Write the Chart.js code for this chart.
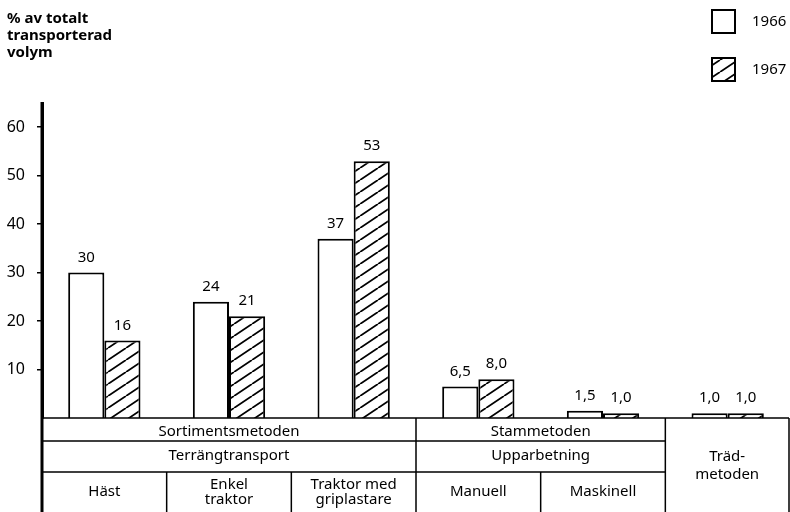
<!DOCTYPE html>
<html><head><meta charset="utf-8">
<script src="https://cdn.jsdelivr.net/npm/chart.js@4"></script>
<style>html,body{margin:0;padding:0;background:#fff}canvas{display:block}</style>
</head><body><canvas id="c" width="790" height="512"></canvas>
<script>
const categories = ['Häst','Enkel traktor','Traktor med griplastare','Manuell','Maskinell','Trädmetoden'];
const values1966 = [30, 24, 37, 6.5, 1.5, 1.0];
const values1967 = [16, 21, 53, 8.0, 1.0, 1.0];
const seriesNames = ['1966', '1967'];
const yTicks = [10, 20, 30, 40, 50, 60];
const axisTitle = ['% av totalt', 'transporterad', 'volym'];
const bottomRowLabels = [['Häst'], ['Enkel', 'traktor'], ['Traktor med', 'griplastare'], ['Manuell'], ['Maskinell']];
const fullColumnLabel = { col: 5, lines: ['Träd-', 'metoden'] };
const groupRow1 = [{ text: 'Sortimentsmetoden', from: 0, to: 2 }, { text: 'Stammetoden', from: 3, to: 4 }];
const groupRow2 = [{ text: 'Terrängtransport', from: 0, to: 2 }, { text: 'Upparbetning', from: 3, to: 4 }];

const FONT = '"Noto Sans", "DejaVu Sans", sans-serif';

const ctx0 = document.getElementById('c').getContext('2d');
const hatch = (function () {
  const W = 18, H = 12;
  const c = document.createElement('canvas');
  c.width = W; c.height = H;
  const g = c.getContext('2d');
  g.fillStyle = '#fff'; g.fillRect(0, 0, W, H);
  g.strokeStyle = '#000'; g.lineWidth = 1.8;
  g.beginPath();
  for (let k = -1; k <= 1; k++) { g.moveTo(k * W, H); g.lineTo((k + 1) * W, 0); }
  g.stroke();
  return ctx0.createPattern(c, 'repeat');
})();

function fmt(v) { return v < 10 ? v.toFixed(1).replace('.', ',') : String(v); }

const overlay = {
  id: 'overlay',
  afterDraw(chart) {
    const ctx = chart.ctx;
    const ca = chart.chartArea;
    const xs = chart.scales.x;
    ctx.save();
    ctx.fillStyle = '#000';
    ctx.strokeStyle = '#000';

    // axis title
    ctx.font = 'bold 15px ' + FONT;
    ctx.textAlign = 'left'; ctx.textBaseline = 'middle';
    axisTitle.forEach((t, i) => ctx.fillText(t, 7, 19 + i * 17));

    // legend
    chart.data.datasets.forEach((ds, i) => {
      const y = 10 + i * 48;
      ctx.fillStyle = ds.backgroundColor;
      ctx.fillRect(712, y, 23, 23);
      ctx.lineWidth = 2; ctx.strokeStyle = '#000';
      ctx.strokeRect(712, y, 23, 23);
      ctx.fillStyle = '#000';
      ctx.font = '15px ' + FONT;
      ctx.textAlign = 'left'; ctx.textBaseline = 'middle';
      ctx.fillText(ds.label, 752, y + 12);
    });

    // value labels
    ctx.font = '15px ' + FONT;
    ctx.textAlign = 'center'; ctx.textBaseline = 'middle';
    chart.data.datasets.forEach((ds, di) => {
      const meta = chart.getDatasetMeta(di);
      meta.data.forEach((bar, i) => {
        ctx.fillText(fmt(ds.data[i]), bar.x, bar.y - 15);
      });
    });

    // table
    const n = categories.length;
    const left = ca.left, right = ca.right - 1;
    const bnd = [left];
    for (let i = 0; i < n - 1; i++) bnd.push((xs.getPixelForValue(i) + xs.getPixelForValue(i + 1)) / 2);
    bnd.push(right);
    const y0 = ca.bottom, y1 = y0 + 23, y2 = y0 + 54, y3 = chart.height;
    ctx.lineWidth = 1.5;
    ctx.beginPath();
    ctx.moveTo(left, y0); ctx.lineTo(right, y0);
    ctx.moveTo(left, y1); ctx.lineTo(bnd[5], y1);
    ctx.moveTo(left, y2); ctx.lineTo(bnd[5], y2);
    [3, 5].forEach(k => { ctx.moveTo(bnd[k], y0); ctx.lineTo(bnd[k], y3); });
    [1, 2, 4].forEach(k => { ctx.moveTo(bnd[k], y2); ctx.lineTo(bnd[k], y3); });
    ctx.moveTo(right, y0); ctx.lineTo(right, y3);
    ctx.stroke();
    // axis extension
    ctx.lineWidth = 3;
    ctx.beginPath();
    ctx.moveTo(left, ca.top - 1); ctx.lineTo(left, y3);
    ctx.stroke();

    ctx.font = '15px ' + FONT;
    ctx.textAlign = 'center'; ctx.textBaseline = 'middle';
    groupRow1.forEach(g => ctx.fillText(g.text, (bnd[g.from] + bnd[g.to + 1]) / 2, (y0 + y1) / 2 + 2));
    groupRow2.forEach(g => ctx.fillText(g.text, (bnd[g.from] + bnd[g.to + 1]) / 2, (y1 + y2) / 2 - 1));
    bottomRowLabels.forEach((lines, i) => {
      const cx = (bnd[i] + bnd[i + 1]) / 2, cy = (y2 + y3) / 2;
      lines.forEach((t, j) => ctx.fillText(t, cx, cy + (j - (lines.length - 1) / 2) * 15));
    });
    const fc = fullColumnLabel;
    const fcx = (bnd[fc.col] + bnd[fc.col + 1]) / 2;
    fc.lines.forEach((t, j) => ctx.fillText(t, fcx, y0 + 39 + j * 18));
    ctx.restore();
  }
};

new Chart(ctx0, {
  type: 'bar',
  data: {
    labels: categories,
    datasets: [
      { label: seriesNames[0], data: values1966, backgroundColor: '#fff', borderColor: '#000', borderWidth: 2, borderSkipped: 'bottom', barPercentage: 1, categoryPercentage: 0.58 },
      { label: seriesNames[1], data: values1967, backgroundColor: hatch, borderColor: '#000', borderWidth: 2, borderSkipped: 'bottom', barPercentage: 1, categoryPercentage: 0.58 }
    ]
  },
  options: {
    responsive: false,
    animation: false,
    devicePixelRatio: 1,
    layout: { padding: { top: 103, bottom: 94, left: 0, right: 0 } },
    plugins: { legend: { display: false }, tooltip: { enabled: false }, title: { display: false } },
    scales: {
      x: { display: false },
      y: {
        min: 0, max: 65,
        afterBuildTicks: s => { s.ticks = yTicks.map(v => ({ value: v })); },
        afterFit: s => { s.width = 42; },
        ticks: { color: '#000', font: { family: FONT, size: 16 }, padding: 12 },
        grid: { display: true, drawOnChartArea: false, drawTicks: true, tickLength: 5, color: '#000', lineWidth: 1.5 },
        border: { display: true, color: '#000', width: 3 }
      }
    }
  },
  plugins: [overlay]
});
</script></body></html>
